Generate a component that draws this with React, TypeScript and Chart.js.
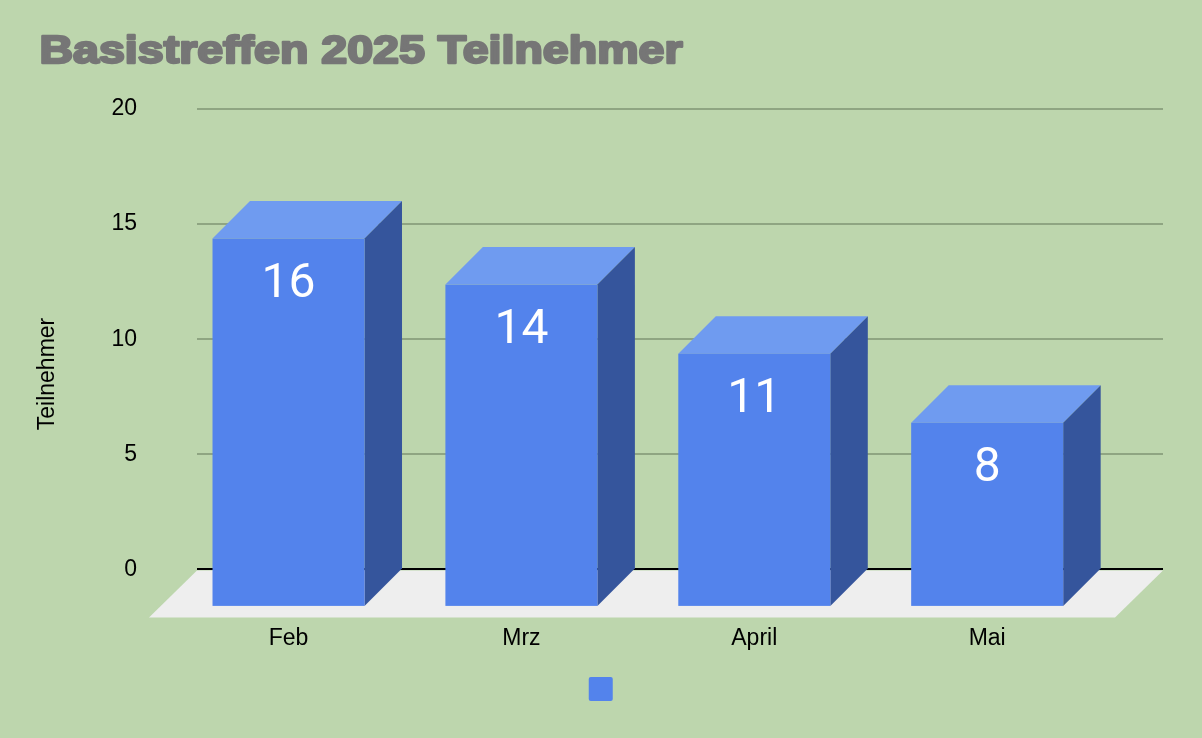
import React, { useEffect, useRef } from 'react';
import { Chart, registerables } from 'chart.js';

Chart.register(...registerables);

// ---- data ----
const chartTitle = 'Basistreffen 2025 Teilnehmer';
const yAxisTitle = 'Teilnehmer';
const months = ['Feb', 'Mrz', 'April', 'Mai'];
const participants = [16, 14, 11, 8];
const yMin = 0;
const yMax = 20;
const yStep = 5;

// ---- style ----
const W = 1202;
const H = 738;
const BG = '#bdd6ad';
const FRONT = '#5383ec';
const TOP = '#6f9bf0';
const SIDE = '#35559c';
const FLOOR = '#eeeeee';
const GRID = '#8fa582';
const DEPTH = 37.5;
const FLOOR_DEPTH = 48;
const FONT = 'Liberation Sans, Arial, sans-serif';

export default function App() {
  const ref = useRef<HTMLCanvasElement | null>(null);

  useEffect(() => {
    const canvas = ref.current;
    if (!canvas) return;

    const bars3d = {
      id: 'bars3d',
      beforeDatasetsDraw(chart: any) {
        const ctx = chart.ctx as CanvasRenderingContext2D;
        const { left, right } = chart.chartArea;
        const y0 = chart.scales.y.getPixelForValue(0);
        ctx.save();
        // floor
        ctx.fillStyle = FLOOR;
        ctx.beginPath();
        ctx.moveTo(left, y0 + 1);
        ctx.lineTo(right, y0 + 1);
        ctx.lineTo(right - FLOOR_DEPTH, y0 + FLOOR_DEPTH);
        ctx.lineTo(left - FLOOR_DEPTH, y0 + FLOOR_DEPTH);
        ctx.closePath();
        ctx.fill();

        const meta = chart.getDatasetMeta(0);
        const d = DEPTH;
        meta.data.forEach((el: any, i: number) => {
          const { x, y, base, width } = el.getProps(['x', 'y', 'base', 'width'], true);
          const l = x - width / 2;
          const r = x + width / 2;
          // top face
          ctx.fillStyle = TOP;
          ctx.beginPath();
          ctx.moveTo(l - d, y + d);
          ctx.lineTo(l, y);
          ctx.lineTo(r, y);
          ctx.lineTo(r - d, y + d);
          ctx.closePath();
          ctx.fill();
          // side face
          ctx.fillStyle = SIDE;
          ctx.beginPath();
          ctx.moveTo(r - d, y + d);
          ctx.lineTo(r, y);
          ctx.lineTo(r, base);
          ctx.lineTo(r - d, base + d);
          ctx.closePath();
          ctx.fill();
          // front face
          ctx.fillStyle = FRONT;
          ctx.fillRect(l - d, y + d, width, base - y);
          // value label
          ctx.fillStyle = '#ffffff';
          ctx.font = '48px Roboto, sans-serif';
          ctx.textAlign = 'center';
          ctx.textBaseline = 'alphabetic';
          ctx.fillText(String(participants[i]), x - d, y + d + 58);
        });
        ctx.restore();
        return false;
      },
    };

    const textPlugin = {
      id: 'texts',
      afterDraw(chart: any) {
        const ctx = chart.ctx as CanvasRenderingContext2D;
        // heavy chart title (Arial Black look)
        ctx.save();
        ctx.font = 'bold 39px "Liberation Sans", Arial, sans-serif';
        const targetWidth = 643;
        const sx = targetWidth / ctx.measureText(chartTitle).width;
        ctx.translate(39.5, 62.5);
        ctx.scale(sx, 1);
        ctx.fillStyle = '#767676';
        ctx.strokeStyle = '#767676';
        ctx.lineWidth = 2.4;
        ctx.lineJoin = 'round';
        ctx.textAlign = 'left';
        ctx.textBaseline = 'alphabetic';
        ctx.fillText(chartTitle, 0, 0);
        ctx.strokeText(chartTitle, 0, 0);
        ctx.restore();

        // y axis title
        ctx.save();
        ctx.translate(47.5, 374);
        ctx.rotate(-Math.PI / 2);
        ctx.font = '23px "Liberation Sans", Arial, sans-serif';
        ctx.fillStyle = '#000000';
        ctx.textAlign = 'center';
        ctx.textBaseline = 'middle';
        ctx.fillText(yAxisTitle, 0, 0);
        ctx.restore();
      },
    };

    const chart = new Chart(canvas, {
      type: 'bar',
      data: {
        datasets: [
          {
            label: '',
            data: participants.map((v, i) => ({ x: i, y: v })),
            backgroundColor: FRONT,
            borderWidth: 0,
            barThickness: 152,
          },
        ],
      },
      options: {
        responsive: false,
        maintainAspectRatio: false,
        animation: false,
        layout: { padding: { top: 109, left: 39, right: 39, bottom: 27 } },
        plugins: {
          title: { display: false },
          tooltip: { enabled: false },
          legend: {
            display: true,
            position: 'bottom',
            labels: {
              boxWidth: 24,
              boxHeight: 24,
              padding: 25,
              font: { size: 1 },
              useBorderRadius: true,
              borderRadius: 2,
            },
          },
        },
        scales: {
          x: {
            type: 'linear',
            offset: false,
            min: -0.554,
            max: months.length - 1 + 0.594,
            grid: { display: false, drawTicks: false },
            border: { display: false },
            afterBuildTicks: (scale: any) => {
              scale.ticks = months.map((_, i) => ({ value: i }));
            },
            afterFit: (scale: any) => {
              scale.height = 82.6;
            },
            ticks: {
              callback: (v: any) => months[v as number] ?? '',
              padding: 55,
              labelOffset: -DEPTH,
              maxRotation: 0,
              autoSkip: false,
              color: '#000000',
              font: { family: FONT, size: 23 },
            },
          },
          y: {
            min: yMin,
            max: yMax,
            grid: {
              color: (c: any) => (c.tick && c.tick.value === 0 ? '#000000' : GRID),
              lineWidth: 2,
              drawTicks: false,
            },
            border: { display: false },
            afterFit: (scale: any) => {
              scale.width = 158;
            },
            ticks: {
              stepSize: yStep,
              padding: 60,
              color: '#000000',
              font: { family: FONT, size: 23 },
            },
            title: { display: false },
          },
        },
      } as any,
      plugins: [bars3d, textPlugin],
    });

    return () => chart.destroy();
  }, []);

  return (
    <div
      style={{
        position: 'fixed',
        left: 0,
        top: 0,
        width: W,
        height: H,
        background: BG,
        overflow: 'hidden',
      }}
    >
      <canvas ref={ref} width={W} height={H} style={{ display: 'block' }} />
    </div>
  );
}
